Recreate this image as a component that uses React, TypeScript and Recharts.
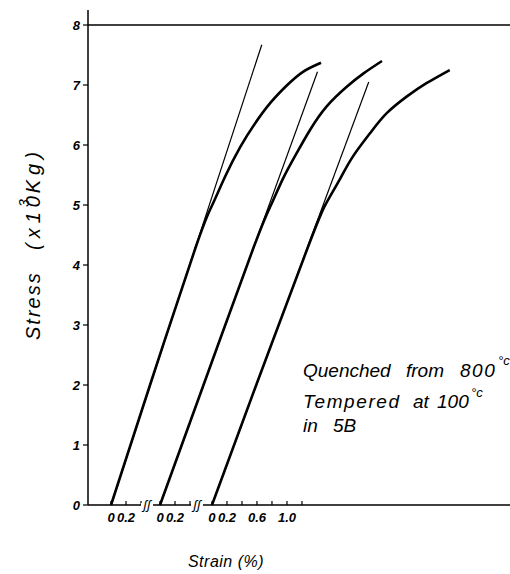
import React from 'react';
import { LineChart, Line, XAxis, YAxis, ReferenceLine, Customized } from 'recharts';

// Horizontal offset (axis units, 1 unit = 1 % strain) of each curve's zero-strain origin
const curveOffsets = [0.307, 0.96, 1.653];

// Thick stress-strain curves (strain %, stress x10^3 kg)
const curve1Strain = [0, 0.52, 1.13, 1.35, 1.52, 1.72, 1.92, 2.13, 2.35, 2.56, 2.8];
const curve1Stress = [0, 2.0, 4.3, 5.0, 5.47, 5.96, 6.36, 6.71, 7.0, 7.22, 7.37];
const curve2Strain = [0, 0.58, 1.25, 1.48, 1.64, 1.82, 2.0, 2.22, 2.49, 2.71, 2.96];
const curve2Stress = [0, 2.0, 4.3, 5.0, 5.44, 5.86, 6.25, 6.64, 6.97, 7.19, 7.4];
const curve3Strain = [0, 0.59, 1.28, 1.51, 1.71, 1.88, 2.11, 2.33, 2.6, 2.86, 3.17];
const curve3Stress = [0, 2.0, 4.3, 5.0, 5.44, 5.81, 6.2, 6.53, 6.81, 7.03, 7.25];

// Thin tangent lines (elastic slope)
const tangent1Strain = [0, 2.01];
const tangent1Stress = [0, 7.67];
const tangent2Strain = [0, 2.1];
const tangent2Stress = [0, 7.22];
const tangent3Strain = [0, 2.09];
const tangent3Stress = [0, 7.05];

// Axis ticks
const yTicks = [0, 1, 2, 3, 4, 5, 6, 7, 8];
const group1TickStrains = [0, 0.2, 0.4];
const group1TickLabels = ['0', '0.2', ''];
const group2TickStrains = [0, 0.2, 0.4];
const group2TickLabels = ['0', '0.2', ''];
const group3TickStrains = [0, 0.2, 0.4, 0.6, 0.8, 1.0, 1.2];
const group3TickLabels = ['0', '0.2', '', '0.6', '', '1.0', ''];
const axisBreaks = [0.787, 1.453];

const FONT = '"Liberation Sans", Arial, sans-serif';

const build = (offset: number, xs: number[], ys: number[]) =>
  xs.map((s, i) => ({ x: offset + s, y: ys[i] }));

const curve1 = build(curveOffsets[0], curve1Strain, curve1Stress);
const curve2 = build(curveOffsets[1], curve2Strain, curve2Stress);
const curve3 = build(curveOffsets[2], curve3Strain, curve3Stress);
const tan1 = build(curveOffsets[0], tangent1Strain, tangent1Stress);
const tan2 = build(curveOffsets[1], tangent2Strain, tangent2Stress);
const tan3 = build(curveOffsets[2], tangent3Strain, tangent3Stress);

type TickInfo = { v: number; label: string; brk: boolean };
const xTickInfo: TickInfo[] = [
  ...group1TickStrains.map((s, i) => ({ v: curveOffsets[0] + s, label: group1TickLabels[i], brk: false })),
  ...group2TickStrains.map((s, i) => ({ v: curveOffsets[1] + s, label: group2TickLabels[i], brk: false })),
  ...group3TickStrains.map((s, i) => ({ v: curveOffsets[2] + s, label: group3TickLabels[i], brk: false })),
  ...axisBreaks.map((b) => ({ v: b, label: '', brk: true })),
].sort((a, b) => a.v - b.v);
const xTicks = xTickInfo.map((t) => t.v);

const XTick = (props: any) => {
  const { x, y, payload } = props;
  const info = xTickInfo.find((t) => Math.abs(t.v - payload.value) < 1e-6);
  if (!info) return null;
  if (info.brk) {
    return (
      <g>
        <rect x={x - 6} y={y - 2} width={12} height={4} fill="#fff" />
        <text x={x} y={y + 4} textAnchor="middle" fontSize={13} fontStyle="italic" fontFamily={FONT} fill="#000">
          ʃʃ
        </text>
      </g>
    );
  }
  return (
    <g>
      <line x1={x} x2={x} y1={y} y2={y - 4} stroke="#000" strokeWidth={1.2} />
      {info.label && (
        <text x={x} y={y + 17} textAnchor="middle" fontSize={13} fontWeight="bold" fontStyle="italic" fontFamily={FONT} fill="#000">
          {info.label}
        </text>
      )}
    </g>
  );
};

const Annotations = () => {
  const common = { fontFamily: FONT, fontStyle: 'italic' as const, fontSize: 19, fill: '#000' };
  return (
    <g>
      {/* Y axis title */}
      <text transform="translate(40,340) rotate(-90)" {...common} fontSize={20}>
        <tspan x={0} y={0} letterSpacing={2}>Stress</tspan>
        <tspan x={90} y={0} letterSpacing={5}>(x10</tspan>
        <tspan dx={-16} dy={-11} fontSize={14}>3</tspan>
        <tspan dx={6} dy={11} letterSpacing={5}>Kg)</tspan>
      </text>
      {/* X axis title */}
      <text x={226} y={567} textAnchor="middle" {...common} fontSize={16} letterSpacing={0.5}>
        Strain (%)
      </text>
      {/* Note */}
      <text {...common}>
        <tspan x={303} y={377}>Quenched</tspan>
        <tspan x={406} y={377}>from</tspan>
        <tspan x={460} y={377} letterSpacing={1.5}>800</tspan>
        <tspan x={498} y={365} fontSize={13}>°c</tspan>
      </text>
      <text {...common}>
        <tspan x={303} y={408} letterSpacing={1.6}>Tempered</tspan>
        <tspan x={413} y={408}>at</tspan>
        <tspan x={437} y={408}>100</tspan>
        <tspan x={471} y={397} fontSize={13}>°c</tspan>
      </text>
      <text {...common}>
        <tspan x={303} y={432}>in</tspan>
        <tspan x={333} y={432}>5B</tspan>
      </text>
    </g>
  );
};

export default function App() {
  return (
    <div style={{ position: 'absolute', left: 0, top: 0, width: 510, height: 574, background: '#fff' }}>
      <LineChart width={510} height={574} margin={{ top: 10, right: 0, bottom: 39, left: 48 }}>
        <XAxis
          type="number"
          dataKey="x"
          domain={[0, 5.6267]}
          allowDataOverflow
          ticks={xTicks}
          interval={0}
          tick={<XTick />}
          tickLine={false}
          tickSize={0}
          tickMargin={0}
          height={30}
          axisLine={{ stroke: '#000', strokeWidth: 1.5 }}
        />
        <YAxis
          type="number"
          dataKey="y"
          domain={[0, 8.25]}
          ticks={yTicks}
          interval={0}
          width={40}
          tickSize={5}
          tickMargin={3}
          axisLine={{ stroke: '#000', strokeWidth: 1.5 }}
          tickLine={{ stroke: '#000', strokeWidth: 1.2 }}
          tick={{ fill: '#000', fontSize: 13, fontWeight: 'bold', fontStyle: 'italic', fontFamily: FONT }}
        />
        <ReferenceLine y={8} stroke="#000" strokeWidth={1.5} />
        <Line data={tan1} dataKey="y" type="linear" stroke="#000" strokeWidth={1.2} dot={false} isAnimationActive={false} />
        <Line data={tan2} dataKey="y" type="linear" stroke="#000" strokeWidth={1.2} dot={false} isAnimationActive={false} />
        <Line data={tan3} dataKey="y" type="linear" stroke="#000" strokeWidth={1.2} dot={false} isAnimationActive={false} />
        <Line data={curve1} dataKey="y" type="natural" stroke="#000" strokeWidth={2.6} dot={false} isAnimationActive={false} />
        <Line data={curve2} dataKey="y" type="natural" stroke="#000" strokeWidth={2.6} dot={false} isAnimationActive={false} />
        <Line data={curve3} dataKey="y" type="natural" stroke="#000" strokeWidth={2.6} dot={false} isAnimationActive={false} />
        <Customized component={Annotations} />
      </LineChart>
    </div>
  );
}
